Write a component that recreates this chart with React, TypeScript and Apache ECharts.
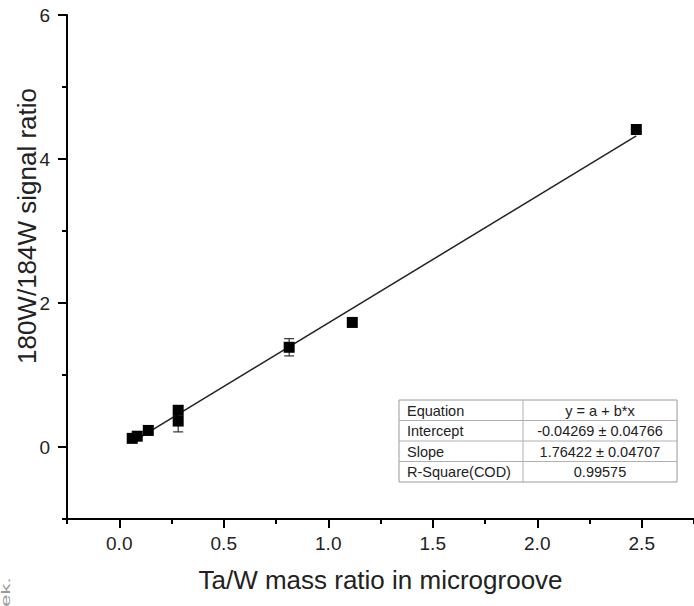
import React, { useEffect, useRef } from "react";
import * as echarts from "echarts";

// ---- data ----
const massRatio = [0.062, 0.086, 0.139, 0.282, 0.282, 0.813, 1.115, 2.474];
const signalRatio = [0.12, 0.15, 0.23, 0.51, 0.36, 1.385, 1.73, 4.41];
const signalError = [0, 0, 0, 0, 0.15, 0.12, 0, 0];

// fitted line end points (as drawn)
const fitX = [0.06, 2.474];
const fitY = [0.063, 4.322];

const xMajor = [0, 0.5, 1, 1.5, 2, 2.5];
const xMinor = [-0.25, 0.25, 0.75, 1.25, 1.75, 2.25, 2.75];
const yMajor = [0, 2, 4, 6];
const yMinor = [-1, 1, 3, 5];

const tableLabels = ["Equation", "Intercept", "Slope", "R-Square(COD)"];
const tableValues = ["y = a + b*x", "-0.04269 ± 0.04766", "1.76422 ± 0.04707", "0.99575"];

const xTitle = "Ta/W mass ratio in microgroove";
const yTitle = "180W/184W signal ratio";

const FONT = "'Liberation Sans', Arial, sans-serif";
const TXT = "#222";

export default function App() {
  const ref = useRef<HTMLDivElement>(null);
  useEffect(() => {
    document.body.style.margin = "0";
    const chart = echarts.init(ref.current!, null, { renderer: "svg" });

    const pts = massRatio.map((x, i) => [x, signalRatio[i], signalError[i]]);
    const fit = fitX.map((x, i) => [x, fitY[i]]);

    // table graphic
    const tX = 399, tY = 400, rowH = 20.5, colW1 = 124, colW2 = 154;
    const tW = colW1 + colW2;
    const tChildren: any[] = [
      { type: "rect", shape: { x: tX, y: tY, width: tW, height: rowH * 4 }, style: { fill: "#fff", stroke: "#9a9a9a", lineWidth: 1 } },
      { type: "line", shape: { x1: tX + colW1, y1: tY, x2: tX + colW1, y2: tY + rowH * 4 }, style: { stroke: "#b0b0b0", lineWidth: 1 } },
    ];
    for (let i = 1; i < 4; i++) {
      tChildren.push({ type: "line", shape: { x1: tX, y1: tY + rowH * i, x2: tX + tW, y2: tY + rowH * i }, style: { stroke: "#b0b0b0", lineWidth: 1 } });
    }
    tableLabels.forEach((t, i) => {
      tChildren.push({ type: "text", x: tX + 8, y: tY + rowH * i + rowH / 2 + 0.5, style: { text: t, font: `14.5px ${FONT}`, fill: TXT, align: "left", verticalAlign: "middle" } });
    });
    tableValues.forEach((t, i) => {
      tChildren.push({ type: "text", x: tX + colW1 + colW2 / 2, y: tY + rowH * i + rowH / 2 + 0.5, style: { text: t, font: `14.5px ${FONT}`, fill: TXT, align: "center", verticalAlign: "middle" } });
    });

    const axisLineStyle = { color: "#000", width: 2 };

    chart.setOption({
      animation: false,
      backgroundColor: "#fff",
      grid: { left: 67, top: 15, width: 627, height: 504, containLabel: false },
      xAxis: [
        {
          type: "value", min: -0.25, max: 2.75, position: "bottom",
          axisLine: { show: true, onZero: false, lineStyle: axisLineStyle },
          axisTick: { show: true, length: 9, customValues: xMajor, lineStyle: { color: "#000", width: 2 } },
          axisLabel: { show: true, customValues: xMajor, margin: 15, fontSize: 19, fontFamily: FONT, color: TXT, formatter: (v: number) => v.toFixed(1) },
          splitLine: { show: false },
          name: xTitle, nameLocation: "middle", nameGap: 48,
          nameTextStyle: { fontSize: 26, fontFamily: FONT, color: TXT },
        },
        {
          type: "value", min: -0.25, max: 2.75, position: "bottom",
          axisLine: { show: false, onZero: false },
          axisTick: { show: true, length: 5, customValues: xMinor, lineStyle: { color: "#000", width: 2 } },
          axisLabel: { show: false },
          splitLine: { show: false },
        },
      ],
      yAxis: [
        {
          type: "value", min: -1, max: 6, position: "left",
          axisLine: { show: true, onZero: false, lineStyle: axisLineStyle },
          axisTick: { show: true, length: 9, customValues: yMajor, lineStyle: { color: "#000", width: 2 } },
          axisLabel: { show: true, customValues: yMajor, margin: 17, fontSize: 19, fontFamily: FONT, color: TXT },
          splitLine: { show: false },
        },
        {
          type: "value", min: -1, max: 6, position: "left",
          axisLine: { show: false, onZero: false },
          axisTick: { show: true, length: 5, customValues: yMinor, lineStyle: { color: "#000", width: 2 } },
          axisLabel: { show: false },
          splitLine: { show: false },
        },
      ],
      graphic: [
        { type: "text", x: 27, y: 226, rotation: Math.PI / 2, style: { text: yTitle, font: `26px ${FONT}`, fill: TXT, align: "center", verticalAlign: "middle" } },
        { type: "text", x: 6, y: 592, rotation: Math.PI / 2, scaleX: 1.7, scaleY: 1, style: { text: "ek.", font: `13px ${FONT}`, fill: "#999", align: "center", verticalAlign: "middle" } },
        { type: "group", children: tChildren, z: 100 },
      ],
      series: [
        {
          type: "line", data: fit, xAxisIndex: 0, yAxisIndex: 0, showSymbol: false, symbol: "none",
          lineStyle: { color: "#222", width: 1.5 }, z: 2,
        },
        {
          type: "custom", data: pts, xAxisIndex: 0, yAxisIndex: 0, z: 3,
          renderItem: (params: any, api: any) => {
            const x = api.value(0), y = api.value(1), e = api.value(2);
            if (!e) return null;
            const top = api.coord([x, y + e]);
            const bot = api.coord([x, y - e]);
            const hw = 5;
            const st = { stroke: "#333", lineWidth: 1.2 };
            return {
              type: "group",
              children: [
                { type: "line", shape: { x1: top[0], y1: top[1], x2: bot[0], y2: bot[1] }, style: st },
                { type: "line", shape: { x1: top[0] - hw, y1: top[1], x2: top[0] + hw, y2: top[1] }, style: st },
                { type: "line", shape: { x1: bot[0] - hw, y1: bot[1], x2: bot[0] + hw, y2: bot[1] }, style: st },
              ],
            };
          },
        },
        {
          type: "scatter", data: pts.map((p) => [p[0], p[1]]), xAxisIndex: 0, yAxisIndex: 0,
          symbol: "rect", symbolSize: 11, itemStyle: { color: "#000", opacity: 1 }, z: 4,
        },
      ],
    });
    return () => chart.dispose();
  }, []);
  return <div ref={ref} style={{ width: 694, height: 606 }} />;
}
